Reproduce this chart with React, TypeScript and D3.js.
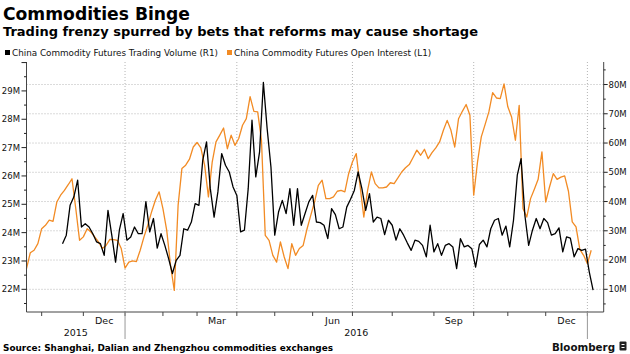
import React from "react";
import * as d3 from "d3";

// Open interest (L1), millions, every 2 trading days starting at day 0 (~21 Oct 2015)
const openInterest = [
  22.73, 23.29, 23.38, 23.61, 24.14, 24.26, 24.44, 24.4, 25.08, 25.32,
  25.49, 25.69, 25.9, 24.85, 23.73, 23.85, 24.14, 24.02, 23.85, 23.67,
  23.44, 23.55, 23.76, 23.75, 23.73, 23.44, 22.75, 22.96, 23.0, 22.98,
  23.38, 23.85, 24.26, 24.73, 25.14, 25.44, 24.85, 24.08, 22.85, 21.96,
  24.96, 26.26, 26.38, 26.59, 27.02, 27.18, 26.99, 26.38, 25.26, 26.49,
  27.2, 27.44, 27.69, 26.96, 27.44, 27.08, 27.32, 27.79, 28.02, 28.8,
  28.28, 28.26, 27.26, 23.9, 23.73, 23.2, 22.96, 23.67, 23.14, 22.73,
  23.61, 23.2, 23.44, 23.55, 24.12, 24.61, 25.08, 25.67, 25.85, 25.2,
  25.2, 25.26, 25.46, 25.49, 25.44, 26.08, 26.49, 26.79, 25.67, 24.55,
  25.49, 26.14, 25.73, 25.58, 25.58, 25.61, 25.76, 25.73, 25.93, 26.14,
  26.29, 26.4, 26.65, 26.91, 26.73, 26.94, 26.61, 26.82, 26.99, 27.2,
  27.61, 27.96, 27.61, 27.02, 28.02, 28.28, 28.52, 28.14, 25.32, 26.49,
  27.38, 27.81, 28.26, 28.94, 28.75, 28.73, 29.25, 28.44, 28.08, 27.26,
  28.49, 24.85, 24.55, 25.2, 25.53, 25.88, 26.85, 25.08, 25.61, 26.08,
  25.88, 25.96, 26.0, 25.46, 24.38, 24.2, 23.41, 23.2, 22.9, 23.38,
];
const OI_START_DAY = 0;

// Trading volume (R1), millions, every 2 trading days starting at day 19
const tradingVolume = [
  25.6, 28.5, 38.7, 41.6, 47.3, 31.3, 32.4, 31.3, 29.0, 26.2,
  25.6, 21.6, 37.0, 28.5, 19.3, 30.2, 35.9, 26.8, 27.9, 31.3,
  29.0, 29.0, 40.0, 29.6, 34.2, 24.1, 29.0, 25.0, 20.5, 15.4,
  19.9, 21.6, 30.7, 30.2, 33.0, 39.3, 38.7, 54.1, 60.4, 44.4,
  34.7, 43.3, 56.4, 52.4, 50.1, 45.0, 42.1, 29.6, 30.2, 44.4,
  67.8, 48.4, 57.0, 80.7, 64.9, 51.8, 28.5, 36.4, 40.4, 35.9,
  44.4, 31.9, 44.4, 31.9, 35.9, 39.9, 42.1, 33.0, 32.8, 31.9,
  27.3, 37.6, 35.5, 30.7, 31.3, 38.1, 40.8, 43.8, 50.1, 44.4,
  37.0, 42.7, 33.0, 34.7, 34.2, 28.7, 33.6, 31.9, 26.8, 30.7,
  28.5, 25.8, 23.3, 26.8, 26.4, 25.0, 21.1, 31.9, 22.8, 25.6,
  21.6, 25.0, 25.6, 24.5, 17.1, 27.3, 24.5, 25.0, 23.9, 17.6,
  25.3, 26.8, 24.5, 30.7, 33.6, 34.2, 28.5, 31.6, 24.5, 33.6,
  49.0, 54.7, 35.3, 25.0, 30.2, 34.2, 30.7, 34.2, 32.8, 28.5,
  29.0, 31.0, 22.8, 27.9, 27.5, 21.1, 23.9, 23.3, 23.7, 15.9,
  9.7,
];
const VOL_START_DAY = 19;
const DAY_STEP = 2;

// x axis (trading-day index)
const monthStartDays = [8, 30, 52, 72, 90, 111, 131, 151, 172, 193, 215, 236, 254, 274, 296];
const quarterGridDays = [52, 111, 172, 236, 296];
const yearBoundaryDays = [52, 296];
const monthLabels = ["Dec", "Mar", "Jun", "Sep", "Dec"];
const monthLabelDays = [41, 100.5, 161.5, 225.5, 285];
const yearLabels = ["2015", "2016"];
const yearLabelDays = [26, 174];

// y axes
const leftTickValues = [22, 23, 24, 25, 26, 27, 28, 29];
const rightTickValues = [10, 20, 30, 40, 50, 60, 70, 80];

const FONT = "'DejaVu Sans', Verdana, sans-serif";
const ORANGE = "#f28b24";

export default function App() {
  const W = 630;
  const H = 354;
  const xL = 26.5;
  const xR = 603.7;
  const yTop = 62;
  const yBot = 312;

  const x = d3.scaleLinear().domain([0, 304.6]).range([xL, xR]);
  const yLeft = d3.scaleLinear().domain([21.2, 30.02]).range([yBot, yTop]);
  const yRight = d3.scaleLinear().domain([2.24, 87.7]).range([yBot, yTop]);

  const oiLine = d3
    .line<number>()
    .x((_, i) => x(OI_START_DAY + i * DAY_STEP))
    .y((v) => yLeft(v));
  const volLine = d3
    .line<number>()
    .x((_, i) => x(VOL_START_DAY + i * DAY_STEP))
    .y((v) => yRight(v));

  const leftMinor = d3.range(21.5, 30.01, 0.5);
  const rightMinor = d3.range(5, 86, 5);

  return (
    <svg
      width={W}
      height={H}
      style={{ position: "fixed", left: 0, top: 0, background: "#fff" }}
      fontFamily={FONT}
    >
      <rect width={W} height={H} fill="#fff" />

      {/* Titles */}
      <text x={3} y={20} fontSize={17} fontWeight="bold" textLength={187} lengthAdjust="spacingAndGlyphs">
        Commodities Binge
      </text>
      <text x={3} y={35.5} fontSize={12} fontWeight="bold" textLength={475} lengthAdjust="spacingAndGlyphs">
        Trading frenzy spurred by bets that reforms may cause shortage
      </text>

      {/* Legend */}
      <rect x={5} y={50} width={5} height={5} fill="#000" />
      <text x={12} y={55.5} fontSize={8.8} fill="#111">
        China Commodity Futures Trading Volume (R1)
      </text>
      <rect x={227} y={50} width={5} height={5} fill={ORANGE} />
      <text x={234} y={55.5} fontSize={8.8} fill="#111">
        China Commodity Futures Open Interest (L1)
      </text>

      {/* Horizontal gridlines (right axis) */}
      {rightTickValues.map((v) => (
        <line
          key={"hg" + v}
          x1={xL}
          x2={xR}
          y1={yRight(v)}
          y2={yRight(v)}
          stroke="#b5b5b5"
          strokeWidth={1}
          strokeDasharray="1,2"
        />
      ))}
      {/* Vertical gridlines */}
      {quarterGridDays.map((d) => (
        <line
          key={"vg" + d}
          x1={x(d)}
          x2={x(d)}
          y1={yTop}
          y2={yBot}
          stroke="#b5b5b5"
          strokeWidth={1}
          strokeDasharray="1,2"
        />
      ))}

      {/* Series */}
      <path d={oiLine(openInterest) || ""} fill="none" stroke={ORANGE} strokeWidth={1.3} strokeLinejoin="round" />
      <path d={volLine(tradingVolume) || ""} fill="none" stroke="#000" strokeWidth={1.3} strokeLinejoin="round" />

      {/* Axes lines */}
      <line x1={xL} x2={xL} y1={yTop} y2={yBot} stroke="#444" strokeWidth={1} />
      <line x1={xR} x2={xR} y1={yTop} y2={yBot} stroke="#444" strokeWidth={1} />
      <line x1={xL} x2={xR} y1={yBot} y2={yBot} stroke="#444" strokeWidth={1} />

      {/* Left axis ticks */}
      {leftMinor.map((v) => {
        const major = Math.abs(v - Math.round(v)) < 1e-6;
        return (
          <line
            key={"lt" + v}
            x1={xL - (major ? 5 : 2.5)}
            x2={xL}
            y1={yLeft(v)}
            y2={yLeft(v)}
            stroke="#222"
            strokeWidth={1}
          />
        );
      })}
      {leftTickValues.map((v) => (
        <text key={"ll" + v} x={20} y={yLeft(v) + 3} fontSize={8.5} textAnchor="end" fill="#111">
          {v}M
        </text>
      ))}

      {/* Right axis ticks */}
      {rightMinor.map((v) => {
        const major = v % 10 === 0;
        return (
          <line
            key={"rt" + v}
            x1={xR}
            x2={xR + (major ? 4 : 2)}
            y1={yRight(v)}
            y2={yRight(v)}
            stroke="#222"
            strokeWidth={1}
          />
        );
      })}
      {rightTickValues.map((v) => (
        <text key={"rl" + v} x={608.5} y={yRight(v) + 3} fontSize={8.5} fill="#111">
          {v}M
        </text>
      ))}

      {/* Bottom axis ticks */}
      {monthStartDays.map((d) => (
        <line key={"bt" + d} x1={x(d)} x2={x(d)} y1={yBot} y2={yBot + 4} stroke="#444" strokeWidth={1} />
      ))}
      {yearBoundaryDays.map((d) => (
        <line key={"yb" + d} x1={x(d)} x2={x(d)} y1={yBot} y2={339} stroke="#999" strokeWidth={1} />
      ))}
      {monthLabels.map((m, i) => (
        <text key={"ml" + i} x={x(monthLabelDays[i])} y={324} fontSize={9.5} textAnchor="middle" fill="#111">
          {m}
        </text>
      ))}
      {yearLabels.map((yl, i) => (
        <text key={"yl" + i} x={x(yearLabelDays[i])} y={336} fontSize={9.5} textAnchor="middle" fill="#111">
          {yl}
        </text>
      ))}

      {/* Footer */}
      <text x={3} y={351} fontSize={8.5} fontWeight="bold" textLength={330} lengthAdjust="spacingAndGlyphs">
        Source: Shanghai, Dalian and Zhengzhou commodities exchanges
      </text>
      <text x={552} y={350.5} fontSize={11} fontWeight="bold" textLength={63} lengthAdjust="spacingAndGlyphs" fill="#111">
        Bloomberg
      </text>
      <rect x={619.5} y={341.5} width={7} height={9} rx={1} fill="#222" />
      <line x1={621.5} x2={624.5} y1={344.5} y2={344.5} stroke="#fff" strokeWidth={1} />
      <line x1={621.5} x2={624.5} y1={347.5} y2={347.5} stroke="#fff" strokeWidth={1} />
    </svg>
  );
}
